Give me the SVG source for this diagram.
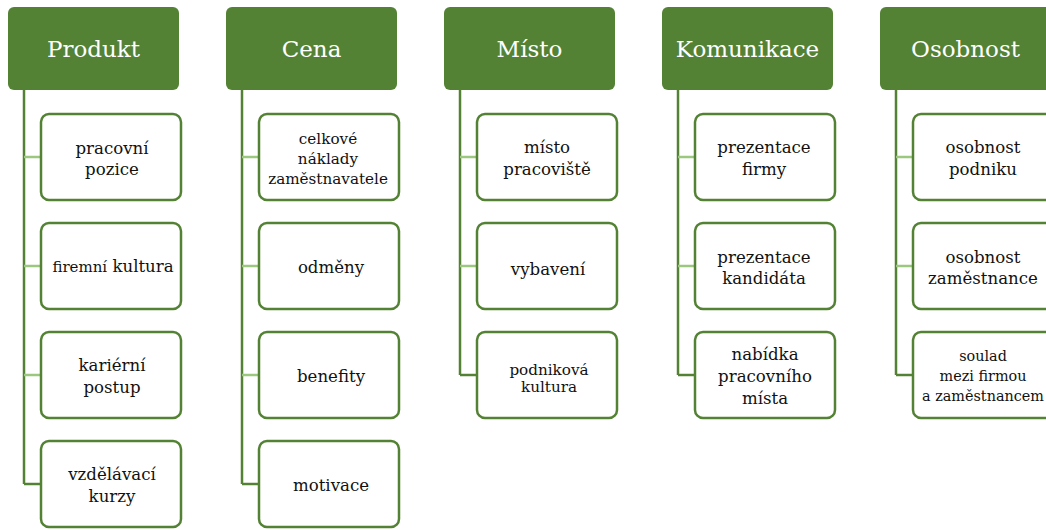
<svg xmlns="http://www.w3.org/2000/svg" width="1046" height="530" viewBox="0 0 1046 530">
<style>
.hdr{fill:#548235}
.ht{fill:#ffffff;font-size:23px;text-anchor:middle;font-family:'DejaVu Serif',serif}
.box{fill:#ffffff;stroke:#548235;stroke-width:2.5}
.t{fill:#111111;font-size:16.6px;text-anchor:middle;font-family:'DejaVu Serif',serif}
.v{stroke:#548235;stroke-width:2.5;fill:none}
.s{stroke:#9CC77F;stroke-width:2.5;fill:none}
.d{stroke:#548235;stroke-width:2.5;fill:none}
</style>
<rect width="1046" height="530" fill="#ffffff"/>
<g id="connectors">
<path class="v" d="M24 90V484"/>
<path class="s" d="M24 157H41M24 266H41M24 375H41"/>
<path class="d" d="M24 484H41"/>
<path class="v" d="M242 90V484"/>
<path class="s" d="M242 157H259M242 266H259M242 375H259"/>
<path class="d" d="M242 484H259"/>
<path class="v" d="M460 90V375"/>
<path class="s" d="M460 157H477M460 266H477"/>
<path class="d" d="M460 375H477"/>
<path class="v" d="M678 90V375"/>
<path class="s" d="M678 157H695M678 266H695"/>
<path class="d" d="M678 375H695"/>
<path class="v" d="M896 90V375"/>
<path class="s" d="M896 157H913M896 266H913"/>
<path class="d" d="M896 375H913"/>
</g>
<g id="h-produkt"><rect class="hdr" x="8" y="7" width="171" height="83" rx="6"/><text class="ht" x="93.5" y="57">Produkt</text></g>
<g id="h-cena"><rect class="hdr" x="226" y="7" width="171" height="83" rx="6"/><text class="ht" x="311.5" y="57">Cena</text></g>
<g id="h-misto"><rect class="hdr" x="444" y="7" width="171" height="83" rx="6"/><text class="ht" x="529.5" y="57">Místo</text></g>
<g id="h-komunikace"><rect class="hdr" x="662" y="7" width="171" height="83" rx="6"/><text class="ht" x="747.5" y="57">Komunikace</text></g>
<g id="h-osobnost"><rect class="hdr" x="880" y="7" width="171" height="83" rx="6"/><text class="ht" x="965.5" y="57">Osobnost</text></g>

<g id="n-pracovni-pozice"><rect class="box" x="41" y="114" width="140" height="86" rx="8"/><text class="t" x="112" y="154">pracovní<tspan x="112" y="175">pozice</tspan></text></g>
<g id="n-firemni-kultura"><rect class="box" x="41" y="223" width="140" height="86" rx="8"/><text class="t" x="113" y="272"><tspan style="font-size:15px">firemní</tspan> kultura</text></g>
<g id="n-karierni-postup"><rect class="box" x="41" y="332" width="140" height="86" rx="8"/><text class="t" x="112" y="371">kariérní<tspan x="112" y="393">postup</tspan></text></g>
<g id="n-vzdelavaci-kurzy"><rect class="box" x="41" y="441" width="140" height="86" rx="8"/><text class="t" x="112" y="480">vzdělávací<tspan x="112" y="502">kurzy</tspan></text></g>

<g id="n-celkove-naklady"><rect class="box" x="259" y="114" width="140" height="86" rx="8"/><text class="t" x="328" y="144" style="font-size:15.2px">celkové<tspan x="328" y="164">náklady</tspan><tspan x="328" y="184">zaměstnavatele</tspan></text></g>
<g id="n-odmeny"><rect class="box" x="259" y="223" width="140" height="86" rx="8"/><text class="t" x="331" y="273">odměny</text></g>
<g id="n-benefity"><rect class="box" x="259" y="332" width="140" height="86" rx="8"/><text class="t" x="331" y="382">benefity</text></g>
<g id="n-motivace"><rect class="box" x="259" y="441" width="140" height="86" rx="8"/><text class="t" x="331" y="491">motivace</text></g>

<g id="n-misto-pracoviste"><rect class="box" x="477" y="114" width="140" height="86" rx="8"/><text class="t" x="547" y="153">místo<tspan x="547" y="175">pracoviště</tspan></text></g>
<g id="n-vybaveni"><rect class="box" x="477" y="223" width="140" height="86" rx="8"/><text class="t" x="548" y="275">vybavení</text></g>
<g id="n-podnikova-kultura"><rect class="box" x="477" y="332" width="140" height="86" rx="8"/><text class="t" x="549" y="375" style="font-size:15.2px">podniková<tspan x="549" y="392">kultura</tspan></text></g>

<g id="n-prezentace-firmy"><rect class="box" x="695" y="114" width="140" height="86" rx="8"/><text class="t" x="764" y="153">prezentace<tspan x="764" y="175">firmy</tspan></text></g>
<g id="n-prezentace-kandidata"><rect class="box" x="695" y="223" width="140" height="86" rx="8"/><text class="t" x="764" y="263">prezentace<tspan x="764" y="284">kandidáta</tspan></text></g>
<g id="n-nabidka"><rect class="box" x="695" y="332" width="140" height="86" rx="8"/><text class="t" x="765" y="360">nabídka<tspan x="765" y="382">pracovního</tspan><tspan x="765" y="404">místa</tspan></text></g>

<g id="n-osobnost-podniku"><rect class="box" x="913" y="114" width="140" height="86" rx="8"/><text class="t" x="983" y="153">osobnost<tspan x="983" y="175">podniku</tspan></text></g>
<g id="n-osobnost-zamestnance"><rect class="box" x="913" y="223" width="140" height="86" rx="8"/><text class="t" x="983" y="263">osobnost<tspan x="983" y="284">zaměstnance</tspan></text></g>
<g id="n-soulad"><rect class="box" x="913" y="332" width="140" height="86" rx="8"/><text class="t" x="983" y="361" style="font-size:14.4px">soulad<tspan x="983" y="381">mezi firmou</tspan><tspan x="983" y="401">a zaměstnancem</tspan></text></g>
</svg>
